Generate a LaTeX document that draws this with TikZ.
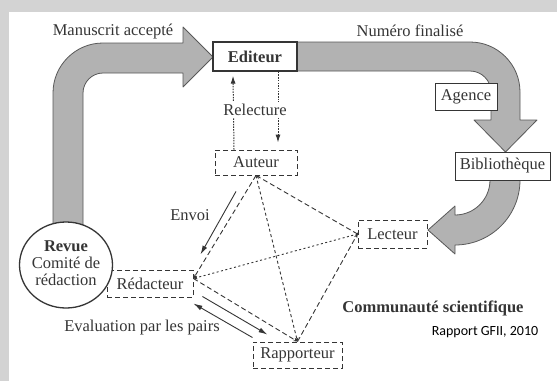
\documentclass[tikz,border=0pt]{standalone}
\usepackage{fontspec}
\setmainfont{Liberation Serif}
\newfontfamily\calib{Carlito}
\usetikzlibrary{shapes.geometric,arrows.meta}
\definecolor{ink}{HTML}{353535}
\definecolor{bandfill}{HTML}{B2B2B2}
\definecolor{bandline}{HTML}{595959}
\definecolor{framegray}{HTML}{D3D3D3}
\tikzset{
  band/.style={fill=bandfill, draw=bandline, line width=0.8pt, line join=round},
  solidbox/.style={draw=ink, line width=1pt, fill=white, inner sep=0pt, text=ink},
  dashbox/.style={draw=ink, line width=0.9pt, dash pattern=on 5pt off 3pt, fill=white, inner sep=0pt, text=ink},
  netdash/.style={draw=ink, line width=0.9pt, dash pattern=on 5pt off 3pt},
  netfine/.style={draw=ink, line width=0.9pt, dash pattern=on 3pt off 2.5pt},
  netdot/.style={draw=ink, line width=0.9pt, dash pattern=on 2pt off 2.5pt},
  smalltip/.style={-{Stealth[length=4pt,width=3.5pt]}},
  relline/.style={draw=ink, line width=1pt, dash pattern=on 1.5pt off 1.2pt},
  solidarrow/.style={draw=ink, line width=0.9pt, -{Latex[length=9pt,width=5pt]}},
  lbl/.style={text=ink, inner sep=1pt}
}
\begin{document}
\begin{tikzpicture}[x=1pt,y=-1pt,font=\fontsize{16.5}{17}\selectfont]
\useasboundingbox (0,0) rectangle (557,381);
\fill[framegray] (0,0) rectangle (557,381);
\fill[white] (9,12) rectangle (557,381);

% big grey arrows
\draw[band] (53,235) -- (53,93) .. controls (53,65.4) and (75.4,43) .. (103,43) -- (183,43) -- (183,27) -- (213,57) -- (183,87) -- (183,73) -- (103,73) .. controls (92,73) and (83,82) .. (83,93) -- (83,235) -- cycle;
\draw[band] (290,42) -- (470,42) .. controls (497.6,42) and (520,64.4) .. (520,92) -- (520,120) -- (537,120) -- (505.5,152) -- (474,120) -- (491,120) -- (491,92) .. controls (491,80.4) and (481.6,71) .. (470,71) -- (290,71) -- cycle;
\draw[band] (490,175) -- (520,175) -- (520,180) .. controls (520,215.9) and (490.9,245) .. (455,245) -- (455,254) -- (428,230) -- (455,206) -- (455,215) .. controls (474.3,215) and (490,199.3) .. (490,180) -- cycle;

% boxes
\node[solidbox, line width=1.4pt, minimum width=84pt, minimum height=29pt, font=\fontsize{16.5}{17}\selectfont\bfseries] (editeur) at (255,56.5) {Editeur};
\node[solidbox, minimum width=62pt, minimum height=27pt] (agence) at (466,96.5) {Agence};
\node[solidbox, minimum width=95pt, minimum height=28pt] (biblio) at (502.5,166) {Bibliothèque};
\node[dashbox, minimum width=82pt, minimum height=25pt] (auteur) at (256,162.5) {Auteur};
\node[dashbox, minimum width=69pt, minimum height=28pt] (lecteur) at (392.5,234) {Lecteur};
\node[dashbox, minimum width=86pt, minimum height=27pt] (redacteur) at (150,283.5) {Rédacteur};
\node[dashbox, minimum width=89pt, minimum height=26pt] (rapporteur) at (297.5,355) {Rapporteur};

% Revue circle
\node[ellipse, draw=ink, line width=1.3pt, fill=white, minimum width=93pt, minimum height=86pt] (revue) at (66,265) {};
\node[lbl, align=center, font=\fontsize{16.5}{17}\selectfont] (revuetext) at (66,263) {\textbf{Revue}\\Comité de\\rédaction};

% relecture
\draw[relline, -{Latex[length=8pt,width=5pt]}] ([xshift=-22pt]auteur.north) -- ([xshift=-22pt,yshift=-4pt]editeur.south);
\draw[relline, -{Latex[length=8pt,width=5pt]}] ([xshift=23pt]editeur.south) -- ([xshift=22pt,yshift=7pt]auteur.north);
\node[lbl, fill=white, inner sep=2pt] (relecture) at (255,110) {Relecture};

% scientific community network
\coordinate (redpt) at ([yshift=5pt]redacteur.east);
\draw[netdash, smalltip] (auteur.south) -- (redpt);
\draw[netdash, smalltip] (lecteur.west) -- (auteur.south);
\draw[netfine, smalltip] (auteur.south) -- (rapporteur.north);
\draw[netdot, smalltip] (lecteur.west) -- (redpt);
\draw[netdash, smalltip] (redpt) -- (rapporteur.north);
\draw[netdash, smalltip] (rapporteur.north) -- (lecteur.west);
\fill[ink] (lecteur.west) circle (1.5pt);

% Envoi
\draw[solidarrow] ([shift={(-20pt,-16pt)}]auteur.south) -- ([shift={(7pt,29pt)}]redacteur.east);
\node[lbl] (envoi) at (190,215) {Envoi};

% Evaluation par les pairs
\draw[solidarrow] ([shift={(9pt,-13pt)}]redacteur.east) -- ([shift={(-30pt,7pt)}]rapporteur.north);
\draw[solidarrow] ([shift={(-45pt,4pt)}]rapporteur.north) -- ([shift={(0pt,-20pt)}]redacteur.east);
\node[lbl] (eval) at (142,328) {Evaluation par les pairs};

% labels
\node[lbl] (manus) at (113,32) {Manuscrit accepté};
\node[lbl] (numero) at (410,31) {Numéro finalisé};
\node[lbl, font=\fontsize{16.5}{17}\selectfont\bfseries] (commu) at (433,308) {Communauté scientifique};
\node[lbl, font=\calib\fontsize{14}{15}\selectfont, text=black] (rapport) at (485,332) {Rapport GFII, 2010};
\end{tikzpicture}
\end{document}
